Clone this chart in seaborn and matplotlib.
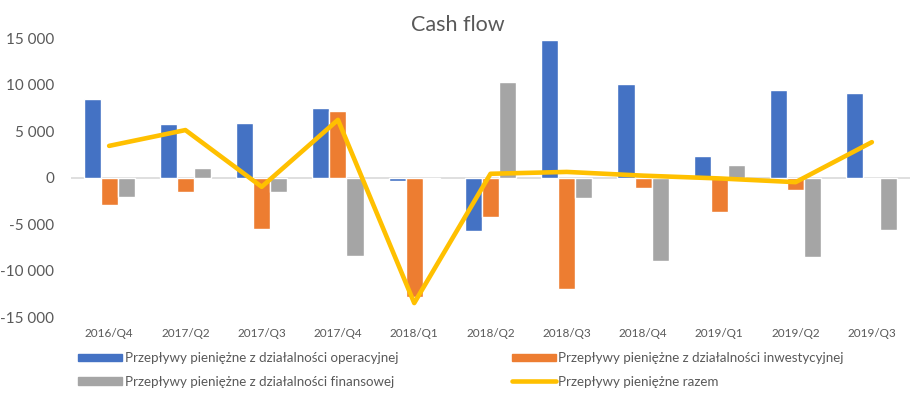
import matplotlib
matplotlib.use("Agg")
import matplotlib.pyplot as plt
import seaborn as sns
import pandas as pd
from matplotlib.ticker import FuncFormatter
from matplotlib.patches import Patch
from matplotlib.lines import Line2D

categories = ["2016/Q4", "2017/Q2", "2017/Q3", "2017/Q4", "2018/Q1", "2018/Q2",
              "2018/Q3", "2018/Q4", "2019/Q1", "2019/Q2", "2019/Q3"]
operacyjna = [8400, 5700, 5900, 7500, -400, -5700, 14800, 10100, 2300, 9400, 9100]
inwestycyjna = [-3000, -1600, -5500, 7100, -12900, -4200, -12000, -1100, -3700, -1300, 0]
finansowa = [-2100, 1000, -1600, -8400, -200, 10300, -2200, -9000, 1300, -8600, -5600]
razem = [3400, 5100, -1000, 6200, -13500, 400, 600, 200, -100, -500, 3800]

s_op = "Przepływy pieniężne z działalności operacyjnej"
s_inw = "Przepływy pieniężne z działalności inwestycyjnej"
s_fin = "Przepływy pieniężne z działalności finansowej"
s_raz = "Przepływy pieniężne razem"

colors = {s_op: "#4472C4", s_inw: "#ED7D31", s_fin: "#A5A5A5"}
line_color = "#FFC000"
text_color = "#595959"

df = pd.DataFrame({
    "kwartał": categories * 3,
    "wartość": operacyjna + inwestycyjna + finansowa,
    "seria": [s_op] * len(categories) + [s_inw] * len(categories) + [s_fin] * len(categories),
})

sns.set_theme(style="white")
plt.rcParams["font.family"] = ["Lato", "DejaVu Sans"]

fig = plt.figure(figsize=(9.16, 3.93), dpi=100)
ax = fig.add_axes([71 / 916, 1 - 317 / 393, (910 - 71) / 916, (317 - 38) / 393])

sns.barplot(data=df, x="kwartał", y="wartość", hue="seria", order=categories,
            hue_order=[s_op, s_inw, s_fin], palette=colors, width=0.67,
            saturation=1, ax=ax, legend=False, zorder=2)
ax.axhline(0, color="#D9D9D9", lw=1.2, zorder=1)
ax.plot(range(len(categories)), razem, color=line_color, lw=3.3, zorder=3,
        solid_joinstyle="round", solid_capstyle="round")

ax.set_ylim(-15000, 15000)
ax.set_xlim(-0.5, len(categories) - 0.5)
ax.set_yticks(range(-15000, 15001, 5000))
ax.yaxis.set_major_formatter(FuncFormatter(lambda v, p: f"{int(v):,}".replace(",", " ")))
ax.set_xlabel("")
ax.set_ylabel("")
for sp in ax.spines.values():
    sp.set_visible(False)
ax.tick_params(axis="y", length=0, labelsize=11, labelcolor=text_color, pad=12)
ax.tick_params(axis="x", length=0, labelsize=8.5, labelcolor=text_color, pad=8)

fig.text(0.5, 1 - 25 / 393, "Cash flow", ha="center", va="center",
         fontsize=15.5, color=text_color)

handles = [
    Patch(color=colors[s_op], label=s_op),
    Patch(color=colors[s_fin], label=s_fin),
    Patch(color=colors[s_inw], label=s_inw),
    Line2D([0], [0], color=line_color, lw=3.3, label=s_raz),
]
leg = fig.legend(handles=handles, ncol=2, loc="lower left",
                 bbox_to_anchor=(73 / 916, 0, (849 - 73) / 916, 52 / 393),
                 mode="expand", frameon=False, fontsize=9.6, handlelength=3.3,
                 handleheight=0.5, handletextpad=0.2, labelcolor=text_color,
                 labelspacing=0.85, borderaxespad=0)

fig.savefig("out.png", dpi=100)
